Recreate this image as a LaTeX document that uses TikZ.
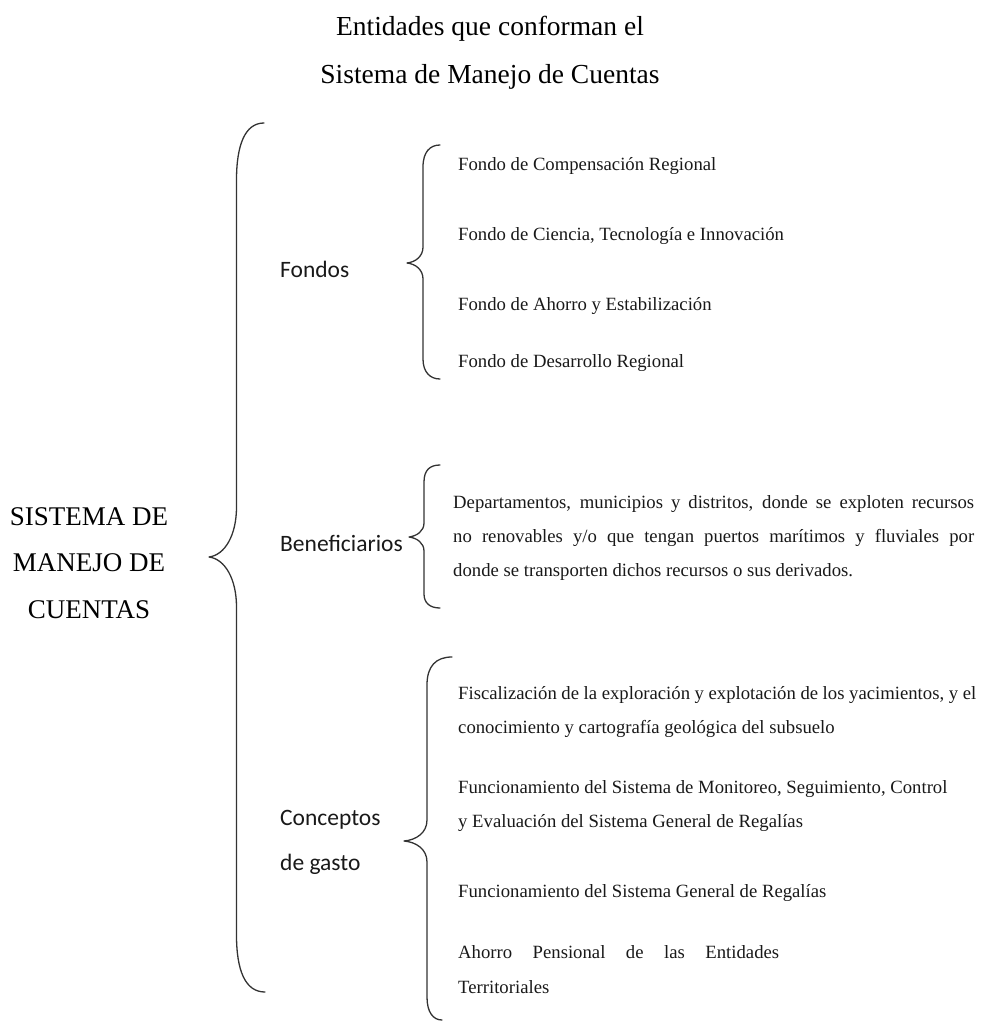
\documentclass[tikz,border=0pt]{standalone}
\usepackage{fontspec}
\setmainfont{Liberation Serif}
\newfontfamily\calib{Carlito}
\tikzset{
  itemtext/.style={font=\fontsize{18.7}{34}\selectfont, inner sep=0pt, align=left, text=black!90},
  labtext/.style={font=\calib\fontsize{23.5}{45}\selectfont, inner sep=0pt, align=left, text=black!90},
  bracestyle/.style={line width=1.3pt, draw=black!80, line cap=round, line join=round},
}
\begin{document}
\begin{tikzpicture}[x=1pt,y=-1pt]
\useasboundingbox (0,0) rectangle (980,1022);
% title
\node[font=\fontsize{27.5}{48}\selectfont, align=center, inner sep=0pt] (title) at (490,53)
  {Entidades que conforman el\\Sistema de Manejo de Cuentas};
% root
\node[font=\fontsize{27}{46.5}\selectfont, align=center, inner sep=0pt] (root) at (89,563)
  {SISTEMA DE\\MANEJO DE\\CUENTAS};
% labels
\node[labtext, anchor=base west] (fondos) at (280,277) {Fondos};
\node[labtext, anchor=base west] (benef) at (280,551) {Beneficiarios};
\node[labtext, anchor=north west] (concep) at (280,810) {Conceptos\\de gasto};
% fondos items
\node[itemtext, anchor=base west] (f1) at (458,170) {Fondo de Compensación Regional};
\node[itemtext, anchor=base west] (f2) at (458,240) {Fondo de Ciencia, Tecnología e Innovación};
\node[itemtext, anchor=base west] (f3) at (458,310) {Fondo de Ahorro y Estabilización};
\node[itemtext, anchor=base west] (f4) at (458,367) {Fondo de Desarrollo Regional};
% beneficiarios
\node[itemtext, anchor=north west] (b1) at (453,495)
  {\makebox[521pt][s]{Departamentos, municipios y distritos, donde se exploten recursos}\\
   \makebox[521pt][s]{no renovables y/o que tengan puertos marítimos y fluviales por}\\
   donde se transporten dichos recursos o sus derivados.};
% conceptos
\node[itemtext, anchor=north west] (c1) at (458,686)
  {\makebox[518pt][s]{Fiscalización de la exploración y explotación de los yacimientos, y el}\\
   conocimiento y cartografía geológica del subsuelo};
\node[itemtext, anchor=north west] (c2) at (458,780)
  {Funcionamiento del Sistema de Monitoreo, Seguimiento, Control\\
   y Evaluación del Sistema General de Regalías};
\node[itemtext, anchor=base west] (c3) at (458,897) {Funcionamiento del Sistema General de Regalías};
\node[itemtext, anchor=north west, font=\fontsize{18.7}{35}\selectfont] (c4) at (458,945)
  {\makebox[321pt][s]{Ahorro Pensional de las Entidades}\\
   Territoriales};
% big brace
\draw[bracestyle] (264,123) .. controls (245,123) and (236.5,145) .. (236.5,180)
  -- (236.5,507) .. controls (236.5,535) and (225,555) .. (209,557)
  .. controls (225,559) and (236.5,579) .. (236.5,607)
  -- (236.5,935) .. controls (236.5,970) and (245,992) .. (265,992);
% fondos brace
\draw[bracestyle] (440,145) .. controls (430,145) and (423,152) .. (423,167)
  -- (423,247) .. controls (423,256) and (416,262) .. (407,263)
  .. controls (416,264) and (423,270) .. (423,279)
  -- (423,359) .. controls (423,372) and (430,379) .. (440,379);
% beneficiarios brace
\draw[bracestyle] (440,465) .. controls (430,465) and (424,470) .. (424,482)
  -- (424,523) .. controls (424,531) and (417,536) .. (409,537)
  .. controls (417,538) and (424,543) .. (424,551)
  -- (424,594) .. controls (424,603) and (430,608) .. (440,608);
% conceptos brace
\draw[bracestyle] (452,657) .. controls (436,657) and (427,666) .. (427,685)
  -- (427,820) .. controls (427,833) and (416,840) .. (404,841)
  .. controls (416,842) and (427,849) .. (427,862)
  -- (427,997) .. controls (427,1012) and (433,1020) .. (442,1020);
\end{tikzpicture}
\end{document}
